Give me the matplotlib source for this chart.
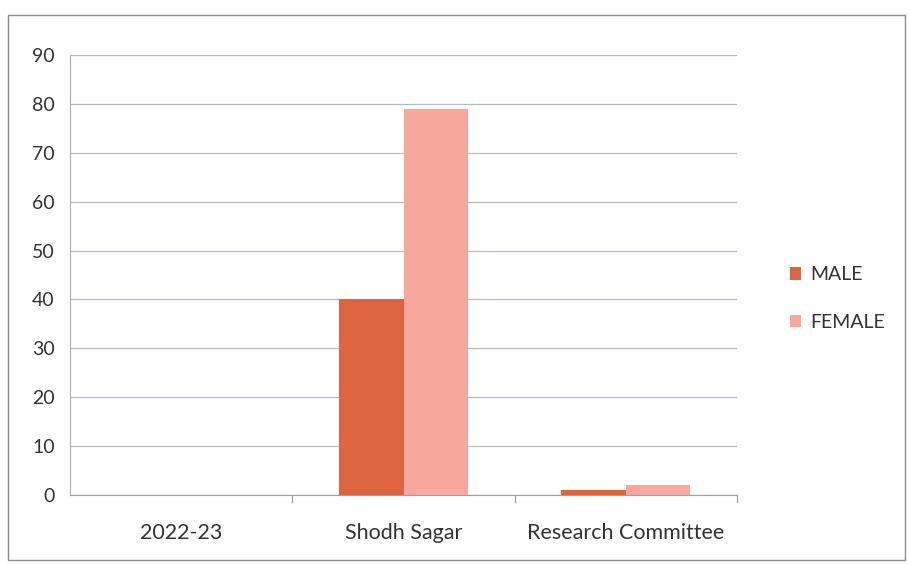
import matplotlib
matplotlib.use("Agg")
import matplotlib.pyplot as plt
import numpy as np
from matplotlib.patches import Rectangle

categories = ["2022-23", "Shodh Sagar", "Research Committee"]
male = [0, 40, 1]
female = [0, 79, 2]
series_names = ["MALE", "FEMALE"]
yticks = list(range(0, 91, 10))

plt.rcParams['font.family'] = ['Lato', 'DejaVu Sans']

fig = plt.figure(figsize=(9.1, 5.64), dpi=100)
fig.patch.set_facecolor('white')
# outer chart border
fig.add_artist(Rectangle((8/910, 4/564), 897/910, 545/564, transform=fig.transFigure,
                         fill=False, edgecolor='#8c8c8c', linewidth=1.0))

ax = fig.add_axes([70/910, 1-495/564, 667/910, 440/564])
x = np.arange(len(categories))
w = 0.29
c_male = '#DE6440'
c_female = '#F5A89B'
ax.bar(x - w/2, male, w, color=c_male, label=series_names[0], zorder=3)
ax.bar(x + w/2, female, w, color=c_female, label=series_names[1], zorder=3)

ax.set_xlim(-0.5, 2.5)
ax.set_ylim(0, 90)
ax.set_yticks(yticks)
ax.set_yticklabels([str(v) for v in yticks], fontsize=14, color='#333333')
ax.set_xticks(x)
ax.set_xticklabels(categories, fontsize=15.5, color='#333333')
ax.tick_params(axis='x', length=0, pad=20)
ax.tick_params(axis='y', length=0, pad=11)
# boundary tick marks on x
for b in [0.5, 1.5, 2.5]:
    ax.plot([b, b], [0, -1.5], color='#a0a0a0', lw=0.9, clip_on=False)
ax.grid(axis='y', color='#b8b8c8', lw=0.9, zorder=0)
for s in ['top', 'right']:
    ax.spines[s].set_visible(False)
ax.spines['left'].set_color('#b0b0b0')
ax.spines['bottom'].set_color('#a0a0a0')

leg = fig.legend(loc='upper left', bbox_to_anchor=(772/910, 1-249/564), frameon=False,
                 fontsize=14, handlelength=0.6, handleheight=0.6, labelspacing=1.55,
                 handletextpad=0.45)
for t in leg.get_texts():
    t.set_color('#333333')

fig.savefig('out.png', dpi=100, facecolor='white')
